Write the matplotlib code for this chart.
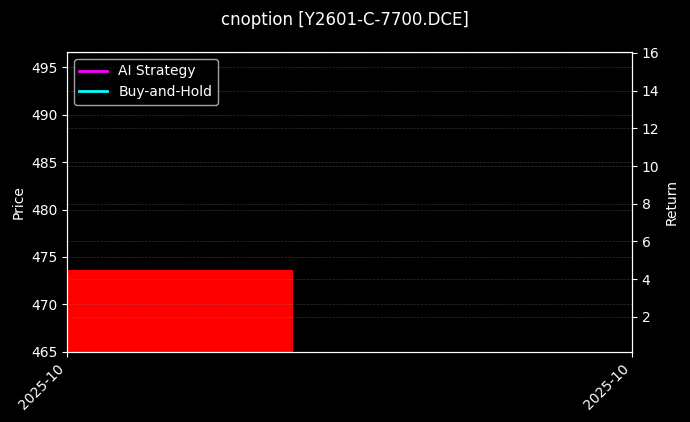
import matplotlib
matplotlib.use('Agg')
import matplotlib.pyplot as plt
import matplotlib.dates as mdates
import numpy as np
from datetime import datetime

# Data
title = 'cnoption [Y2601-C-7700.DCE]'
bar_dates = [datetime(2025, 10, 10)]
bar_heights = [473.6]
bar_days = 2
x_range = [datetime(2025, 10, 10), datetime(2025, 10, 15)]
strategy_dates = []
strategy_returns = []
hold_dates = []
hold_returns = []
price_limits = (465, 496.6)
return_limits = (0.14, 16.05)

plt.style.use('dark_background')
fig = plt.figure(figsize=(6.9, 4.22), dpi=100)
ax = fig.add_axes([0.097, 0.166, 0.819, 0.711])

ax.bar(mdates.date2num(bar_dates), np.array(bar_heights) - price_limits[0], width=bar_days,
       bottom=price_limits[0], align='edge', color='red')
ax.set_ylim(*price_limits)
ax.set_xlim(mdates.date2num(x_range[0]), mdates.date2num(x_range[1]))
ax.set_xticks([mdates.date2num(d) for d in x_range])
ax.xaxis.set_major_formatter(mdates.DateFormatter('%Y-%m'))
plt.setp(ax.get_xticklabels(), rotation=45, ha='right')
ax.set_ylabel('Price')
ax.grid(axis='y', linestyle='--', linewidth=0.5, color='gray', alpha=0.4)

ax2 = ax.twinx()
ax2.plot(strategy_dates, strategy_returns, color='magenta', linewidth=2, label='AI Strategy')
ax2.plot(hold_dates, hold_returns, color='cyan', linewidth=2, label='Buy-and-Hold')
ax2.set_ylim(*return_limits)
ax2.set_yticks([2, 4, 6, 8, 10, 12, 14, 16])
ax2.set_ylabel('Return')
ax2.grid(axis='y', linestyle='--', linewidth=0.5, color='gray', alpha=0.4)
ax2.set_xlim(mdates.date2num(x_range[0]), mdates.date2num(x_range[1]))

ax2.legend(loc='upper left')
fig.suptitle(title, fontsize=12, y=0.975)
fig.savefig('out.png', dpi=100, facecolor='black')
